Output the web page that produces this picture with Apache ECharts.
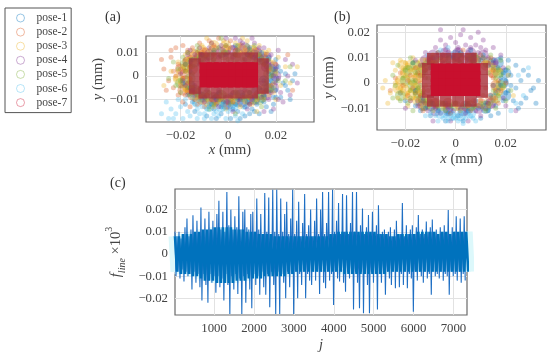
<!DOCTYPE html>
<html><head><meta charset="utf-8">
<style>html,body{margin:0;padding:0;background:#fff}#c{width:550px;height:356px}</style>
<script src="https://cdn.jsdelivr.net/npm/echarts@6/dist/echarts.min.js"></script>
</head><body><div id="c"></div>
<script>
const poseNames=['pose-1','pose-2','pose-3','pose-4','pose-5','pose-6','pose-7'];
const poseColors=['#0072BD','#D95319','#EDB120','#7E2F8E','#77AC30','#4DBEEE','#C8102E'];
// scatter values, flat x,y pairs, in 10^-3 mm
const a1=[-14,-15,-9,-17,-6,-14,-3,-16,1,-18,4,-15,7,-17,10,-14,13,-16,16,-13,19,-12,22,-9,25,-6,27,-2,24,1,21,4,26,-10,18,-15,12,-12,8,-11,3,-12,-2,-11,-7,-12,-11,-10,-15,-11,-17,-8,-12,-7,-6,-9,1,-8,6,-8,11,-9,15,-8,20,-6,23,-3,18,-2,22,2,16,6,20,7,14,10,9,12,3,13,-4,12,-18,-12,-5,-18,5,-18,9,-16,15,-11,24,-4,28,1,17,1,19,-9,-9,-8,-4,-7,4,-10,9,-7,14,-6,17,-4,15,-2,19,3,17,8,13,7,8,9,-1,9,-6,10,-11,9,-15,7,-16,2,-19,-3,-14,-6,-3,-13,2,-14,7,-13,11,-15,20,-9,-8,-13,-16,-5];
const a2=[-27,3,-25,-2,-28,7,-24,8,-22,12,-19,13,-23,-5,-21,-8,-19,-11,-16,-13,-20,3,-18,7,-15,12,-12,14,-8,15,-4,16,1,15,-22,0,-17,-3,-15,-7,-13,10,-10,11,-6,13,-19,-1,-16,4,-14,8,-12,-9,-8,-11,-3,-10,2,-11,7,12,12,11,16,9,20,5,25,9,27,-6,-26,-6,-24,11,-17,10,-13,-12,-9,9,-17,-6,-21,5,-23,2,-14,-10,-10,-13,-5,-12,3,11,9,9,-16,-1,-18,2,-16,8,-11,10,-6,9,-2,10,3,9,7,10,13,9,15,5,17,2,18,-4,15,-7,11,-8,6,-9,1,-9,-4,-9,-9,-8,-14,-7,-18,-8,-20,-4,-17,11,-1,13,5,13,-7,-10,9,-12];
const a3=[-24,2,-21,6,-18,9,-15,11,-11,13,-7,14,-2,15,3,14,8,15,13,13,17,11,21,8,24,4,-20,-3,-18,-6,-15,-9,-11,-11,-6,-13,-1,-14,5,-13,10,-12,15,-10,19,-7,22,-4,-17,2,-14,6,-10,9,-6,10,0,11,5,10,10,10,15,7,18,3,17,-4,14,-7,9,-9,3,-9,-3,-8,-9,-8,-13,-6,-16,-2,-22,-1,26,-3,29,4,6,16,-9,16,-27,-4,20,-10,12,-15,-17,7,-13,9,-8,11,-4,12,1,12,7,11,11,12,16,10,19,6,20,1,19,-3,17,-8,12,-10,7,-11,2,-11,-4,-11,-9,-12,-13,-9,-18,-5,-21,2,-16,-1,-19,4,-15,-5];
const a4=[-16,11,-12,12,-8,12,-3,13,2,12,6,14,11,14,15,12,18,9,21,11,24,7,27,5,29,-3,26,-8,23,-11,19,-14,15,-15,8,-14,2,-15,-4,-13,-10,-9,-14,-8,-18,-4,-20,1,-18,5,-14,9,-9,7,-4,8,2,8,7,7,11,8,16,4,19,0,20,-3,16,-6,12,-7,7,-6,2,-7,-4,-6,-9,-6,-14,-4,-12,5,5,15,-1,16,10,16,22,-7,25,0,17,-10,9,-12,-1,-9,-16,6,-11,9,-6,11,0,10,4,11,9,10,14,8,17,6,20,3,21,-1,18,-7,14,-9,10,-10,5,-10,0,-11,-5,-10,-10,-11,-15,-6,-19,-2,-17,9,13,12,-7,14,3,16,21,-10];
const a5=[-19,8,-16,7,-13,11,-10,8,-6,11,-1,10,4,11,9,11,13,9,17,7,20,2,21,-2,18,-6,15,-9,11,-11,6,-10,1,-10,-4,-10,-9,-10,-13,-8,-17,-5,-20,-2,-21,3,-15,1,-12,-5,-8,-7,-3,-7,3,-7,9,-7,13,-5,16,-2,15,5,11,6,6,7,0,7,-6,7,-11,6,-15,4,-23,6,-25,-1,-20,-7,24,-2,26,4,-13,13,-3,16,8,13,14,-13,3,-16,-8,-14,-17,10,-18,2,-15,-4,-16,-8,-11,-8,-6,-8,-1,-8,4,-8,8,-9,12,-9,16,-6,19,-5,18,0,17,4,14,7,9,8,3,9,-3,9,-8,9,-12,8,-18,5,-22,-4,-1,13,4,13,11,13,-6,-12,1,-12];
const a6=[-25,-18,-22,-16,-19,-18,-16,-17,-13,-18,-10,-16,-7,-18,-4,-17,-1,-18,3,-17,-24,-14,-20,-13,-17,-15,-13,-14,-9,-14,-5,-15,0,-15,6,-16,-26,-11,-12,-16,-8,-12,-3,-12,-15,-9,-11,-13,-18,-10,-6,-16,-21,-10,-2,-14,2,-13,-14,-12,-10,-18,4,-19,-28,-16,-23,-18];
// dense zone of each cloud, same units
const a1r=[14,-9,9,-10,4,-11,-1,-12,-6,-11,-11,-9,17,-5,19,-1,18,3,15,7,11,9,-16,-4,5,-8,-4,-9,12,-6,15,-2];
const a2r=[-20,3,-18,-2,-19,-6,-17,6,-14,9,-10,10,-6,11,-1,11,4,10,-15,-8,-11,-10,-5,-10,0,-10,-18,1,-15,3,-16,-6,9,10];
const a3r=[-21,-1,-17,4,-15,8,-11,11,-6,13,-1,13,5,12,10,11,14,9,17,5,-17,-5,-13,-9,-7,-11,-2,-11,3,-10,8,-10,13,-8];
const a4r=[-3,10,2,11,7,12,12,10,16,8,19,4,20,0,19,-5,16,-8,11,-10,6,-11,0,-12,-6,-9,-12,8,-8,9,16,4,-14,-7];
const a5r=[-18,5,-20,-3,-16,-1,-14,6,-11,8,-7,8,-2,9,3,8,8,8,13,7,17,1,16,-5,13,-10,8,-8,3,-8,-3,-8,-9,-8,-14,-6];
const a6r=[-13,-11,-8,-13,-3,-13,2,-13,7,-12];
const a7Outer=[-14,5,-14,0,-14,-5,-10,7.5,-5,7.5,0,7.5,5,7.5,10,7.5,14.5,5,14.5,0,14.5,-5,-10,-7,-5,-7,0,-7,5,-7,10,-7];
const a7=[-9.5,3.5,-6.5,3.5,-3.5,3.5,-0.5,3.5,2.5,3.5,5.5,3.5,8.5,3.5,10,3.5,-9.5,0.5,-6.5,0.5,-3.5,0.5,-0.5,0.5,2.5,0.5,5.5,0.5,8.5,0.5,10,0.5,-9.5,-2.5,-6.5,-2.5,-3.5,-2.5,-0.5,-2.5,2.5,-2.5,5.5,-2.5,8.5,-2.5,10,-2.5];
const b1=[15,-1,18,2,20,-4,22,3,24,-2,26,1,28,-6,30,-3,27,5,24,7,21,9,18,10,16,-9,19,-7,23,-7,26,-8,32,-8,31,-2,29,3,-7,-11,-3,-12,1,-13,5,-11,9,-10,13,-11,-12,-10,-16,-9,-20,-7,-22,-4,-10,-13,3,-15,14,-13,17,-12,-14,-11,6,13,2,12,-3,11,-7,12,11,11,15,9,20,5,22,-1,17,6,12,-8,16,-4,21,-3,25,-10,-17,8,33,1,-4,-15,10,-14,18,-1,19,4,20,1,17,-3,14,-5,-9,-8,-4,-8,4,-8,8,-7,-1,10,5,10,10,9,-6,10,-13,-6,-16,-3];
const b2=[-22,4,-19,1,-17,-2,-14,-5,-15,4,-13,7,-10,9,-6,10,-12,-8,-8,-9,-4,-9,1,-10,5,-9,9,-9,13,-8,16,-6,18,-3,17,1,15,5,13,8,9,9,4,10,-1,9,-19,-5,-21,-1,-16,6,-18,3,-11,-3,-12,2,11,-5,14,3,12,-2,15,-1,-8,-7,-3,-8,7,-7,-24,2,-26,-3,-15,-7,-7,12,3,13,10,11,14,10,-13,-11,-2,-12,6,-11,17,-8,20,0,-14,0,-16,-4,-14,3,-12,5,-9,8,-5,9,1,9,6,9,11,8,15,2,16,-3,14,-6,10,-7,5,-7,0,-8,-5,-8,-10,-7];
const b3=[-28,1,-26,-4,-24,5,-22,-2,-20,3,-23,-6,-21,6,-19,-4,-18,0,-17,5,-16,-1,-15,2,-14,-4,-13,6,-12,-1,-25,8,-27,-8,-20,8,-18,-7,-15,8,-12,9,-9,8,-16,-6,-12,-6,-8,-8,12,8,15,7,18,5,19,-2,16,-7,13,-9,-5,-10,0,-9,-29,-2,-22,9,-17,10,-19,-9,-14,-9,-9,11,5,11,21,3,23,-5,-23,1,-21,-3,-17,3,-19,2,-14,1,-15,-3,-22,-4,-24,0,-20,-1,-18,-3,-16,3,-21,4,-19,7,-17,-6,-13,-3,-15,6,-20,-6,-23,-2,-18,5,-13,3,16,1,14,5,17,-4];
const b4=[-14,7,-11,9,-7,11,-3,12,1,13,5,12,9,12,13,10,16,8,19,6,-4,15,0,16,4,15,8,15,12,13,-8,14,-12,12,-16,9,2,19,6,18,-2,18,-6,17,11,17,15,14,18,11,-15,-9,-11,-11,-6,-12,-1,-11,4,-12,8,-11,12,-10,15,-9,19,-6,-18,-7,-20,-10,-9,-15,-2,-15,5,-15,10,-13,-5,8,1,9,7,9,13,7,-10,6,-13,-7,20,-9,3,21,-6,21,9,20,24,-11,-9,10,-5,11,-1,11,3,11,7,11,11,10,15,8,-4,13,1,14,6,14,10,14,-3,-10,2,-10,7,-9,13,-8,-8,-10];
const b5=[-24,-1,-21,2,-19,6,-17,8,-16,-4,-14,-7,-12,4,-10,7,-7,9,-3,10,2,11,6,10,11,10,15,6,18,3,19,-1,17,-5,14,-8,10,-8,5,-8,0,-8,-5,-8,-10,-8,-13,-4,-16,1,-18,-3,-20,5,-23,7,-25,-6,-22,-7,-19,-8,-17,-11,-13,-10,-9,-11,-4,-11,2,-11,7,-10,12,-11,16,-10,20,-7,22,-3,21,6,18,9,14,11,8,11,-18,10,-25,3,-11,2,-14,-1,-16,4,-13,7,-17,1,-15,-2,-18,-6,-12,-7,16,2,15,-3,13,4,17,5,12,7,-8,8,-3,8,2,8,7,8,-7,-9,-2,-9,3,-9,8,-9];
const b6=[-8,-13,-5,-14,-2,-13,0,-14,2,-13,4,-14,6,-13,-6,-12,-3,-15,1,-15,3,-16,-10,-12,8,-15,-11,11,-8,10,-6,13,-3,14,24,-8,27,-5,25,3,29,6,22,-11,-1,-12,5,-12,-12,-13,-4,-13,-1,-14,3,-12,7,-14,-7,-15];
const b1r=[20,-5,19,0,20,4,17,8,12,-10,5,-10,-3,-10,-10,-9,-14,-7,6,10,0,11];
const b2r=[-15,2,-14,-3,-13,6,-13,-6,-10,9,-5,10,1,10,7,10,12,7,15,4,16,-1,14,-6,10,-8,4,-9,-3,-8,-8,-8];
const b3r=[-22,1,-20,-3,-20,4,-18,-5,-18,7,-17,1,-16,-2,-15,5,-15,-7,-13,8,-23,-2,-21,7,-12,-9,-9,9,16,5,17,-3];
const b4r=[-9,11,-4,12,1,12,6,12,11,11,15,8,-12,9,-2,9,3,9,8,9,14,-8,9,-10,3,-11,-3,-11,-8,-11,-13,-9];
const b5r=[-22,-5,-20,1,-19,5,-17,-1,-15,-4,-14,4,-16,7,-11,7,-11,-8,-6,-9,0,-9,6,-9,12,-9,16,-6,18,-1,17,4,13,8,8,9];
const b6r=[-6,-12,-2,-13,2,-13,6,-12];
const b7Outer=[-11,5.5,-11,1,-11,-3.5,10.5,5.5,10.5,1,10.5,-3.5,-9,-7,-4,-7,1,-7,6,-7,-9,9.5,-4,9.5,1,9.5,6,9.5];
const b7=[-7.5,5.5,-4.5,5.5,-1.5,5.5,1.5,5.5,4.5,5.5,7.5,5.5,-7.5,2.5,-4.5,2.5,-1.5,2.5,1.5,2.5,4.5,2.5,7.5,2.5,-7.5,-0.5,-4.5,-0.5,-1.5,-0.5,1.5,-0.5,4.5,-0.5,7.5,-0.5,-7.5,-3,-4.5,-3,-1.5,-3,1.5,-3,4.5,-3,7.5,-3];
// peak envelope of f_line, 10^-3, one pair per 50 samples
const fUpper=[10,8,10,7,9,12,16,8,11,17.5,9,15,8,21,10,16,9,19,11,15,10,18,24,11,19,10,28,13,20,11,17,12,26,11,19,20,12,11,18,19,10,25,11,18,9,27.5,10,25.5,9,29,10,29,9,25,10,18,23.6,9,16,29,9,15,23.6,8,14,27,9,13,20,8,15,25,9,20,28,9,14,28,9,29,10,15,23,9,27,10,26.5,9,14,28,10,28,8,13,20.5,9,12,17.6,9,19,9,13,22,9,10,11,9,10,12,8,11,15,8,9,23,8,13,9,11,13,8,12,17.6,9,11,9,14.6,10,12,15.5,9,11,9,12,8,13,9,19.8,9,12,10,17,9,16,9,17];
const fLower=[-10,-8,-11,-7,-12.4,-8,-10,-9,-16,-8,-13,-9,-15,-21,-9,-14,-22,-9,-13,-10,-17.5,-10,-15,-11,-21,-9,-14,-27,-10,-16,-9,-18,-11,-27,-10,-22,-9,-16,-24.4,-9,-14,-10,-18.4,-8,-15,-18.4,-9,-24,-8,-14,-27,-8,-27,-9,-13,-20,-8,-15,-9,-27,-8,-20,-9,-14,-8,-20,-9,-12,-14,-8,-12,-8,-18,-8,-13,-15.4,-8,-12,-9,-23,-8,-11,-12.4,-8,-13,-17,-8,-11,-9,-25,-8,-13,-24.4,-8,-26.7,-9,-14,-26.7,-8,-13,-9,-25,-9,-13,-9,-18.4,-8,-11,-14,-8,-15.4,-8,-15,-9,-14,-8,-15.4,-9,-11,-26,-8,-12,-8,-10,-13,-8,-11,-9,-18.4,-8,-10,-9,-11,-8,-12,-9,-10,-18.4,-8,-10,-9,-12,-8,-13,-9,-12];
// solid core of f_line, 10^-3, one pair per 100 samples
const coreUp=[8,8,9,9,9,10,10,11,11,11,12,12,12,12,12,11,11,11,10,10,10,9,9,9,9,8,8,8,8,8,8,8,8,8,8,8,8,8,8,9,9,10,10,10,10,10,10,10,10,10,10,9,9,9,8,8,9,9,9,9,9,10,10,10,10,10,9,10,10,9,10,10,10,10];
const coreLo=[-8,-9,-9,-9,-10,-10,-11,-12,-12,-12,-13,-13,-13,-13,-13,-12,-12,-12,-11,-11,-11,-11,-10,-10,-10,-10,-10,-10,-9,-9,-8,-8,-8,-8,-8,-8,-8,-8,-8,-8,-8,-8,-9,-9,-9,-9,-9,-9,-9,-9,-9,-9,-9,-8,-8,-8,-8,-8,-8,-8,-8,-8,-8,-8,-8,-8,-8,-8,-8,-8,-8,-8,-8,-8];
const xTicksAB=[-0.02,0,0.02];
const yTicksA=[-0.01,0,0.01];
const yTicksB=[-0.01,0,0.01,0.02];
const yTicksC=[-0.02,-0.01,0,0.01,0.02];
const xTicksC=[1000,2000,3000,4000,5000,6000,7000];

const serif='"Liberation Serif","Times New Roman",serif';
const ink='#444', frame='#6a6a6a', gridLine='#e2e2e2';
const pairs=f=>{const r=[];for(let i=0;i<f.length;i+=2)r.push([f[i]/1000,f[i+1]/1000]);return r;};
const fmt=v=>String(v).replace('-','\u2212');
function axis(gridIndex,min,max,ticks,name,gap){
  return {gridIndex,type:'value',min,max,name,nameLocation:'middle',nameGap:gap,
    nameTextStyle:{fontFamily:serif,fontSize:14.5,color:ink,rich:{i:{fontFamily:serif,fontStyle:'italic',fontSize:14.5,color:ink},s:{fontFamily:serif,fontStyle:'italic',fontSize:10,color:ink,verticalAlign:'bottom',padding:[0,0,-4,0]},u:{fontFamily:serif,fontSize:10,color:ink,verticalAlign:'top',padding:[-4,0,0,0]},n:{fontFamily:serif,fontSize:14.5,color:ink}}},
    axisLine:{show:false},
    axisTick:{show:false,customValues:ticks},
    axisLabel:{customValues:ticks,formatter:fmt,fontFamily:serif,fontSize:12.8,color:ink,margin:7},
    splitLine:{show:true,lineStyle:{color:gridLine,width:1}}};
}
const grids=[
 {left:146,top:36,width:168,height:86,show:true,borderColor:frame,borderWidth:1.2,backgroundColor:'#fff'},
 {left:377,top:25,width:169,height:105,show:true,borderColor:frame,borderWidth:1.2,backgroundColor:'#fff'},
 {left:175,top:189,width:292,height:126,show:true,borderColor:frame,borderWidth:1.2,backgroundColor:'#fff'}
];
const scatter=(lists,rings,outer,gi)=>{
  const base={type:'scatter',xAxisIndex:gi,yAxisIndex:gi,silent:true,animation:false};
  const s=[];
  rings.forEach((l,i)=>s.push({...base,name:poseNames[i],data:pairs(l),symbol:'circle',symbolSize:11,
    itemStyle:{color:poseColors[i],opacity:0.36},z:2}));
  lists.forEach((l,i)=>s.push({...base,name:poseNames[i],data:pairs(l),
    symbol:i===6?'rect':'circle',symbolSize:i===6?[12,11]:5,
    itemStyle:{color:poseColors[i],opacity:i===6?1:0.32},z:i===6?10:i+3}));
  s.push({...base,name:poseNames[6],data:pairs(outer),symbol:'rect',symbolSize:[12,12],
    itemStyle:{color:'#A8323C',opacity:0.82},z:9});
  return s;
};
const peakLine=[],coreLine=[];
fUpper.forEach((u,i)=>{const j=20+i*50;peakLine.push([j,u/1000]);peakLine.push([j+25,fLower[i]/1000]);});
coreUp.forEach((u,i)=>{const j=20+i*100;coreLine.push([j,u/1000]);coreLine.push([j+50,coreLo[i]/1000]);});
const lineSeries=(name,data,color,width,z)=>({name,type:'line',xAxisIndex:2,yAxisIndex:2,data,symbol:'none',silent:true,
   lineStyle:{color,width},z,animation:false});
const option={
 animation:false,backgroundColor:'#fff',
 title:[
  {text:'(a)',left:100,top:5,textStyle:{fontFamily:serif,fontSize:14,fontWeight:'normal',color:'#333'}},
  {text:'(b)',left:329,top:5,textStyle:{fontFamily:serif,fontSize:14,fontWeight:'normal',color:'#333'}},
  {text:'(c)',left:105,top:171,textStyle:{fontFamily:serif,fontSize:14,fontWeight:'normal',color:'#333'}}
 ],
 legend:{show:true,orient:'vertical',left:5,top:8,padding:[4,4,4,11],itemWidth:10,itemHeight:8,itemGap:2.1,
  borderColor:'#555',borderWidth:1,backgroundColor:'#fff',selectedMode:false,
  textStyle:{fontFamily:serif,fontSize:11.5,color:'#444',lineHeight:12,height:12,padding:[0,0,0,6]},
  data:poseNames.map((n,i)=>({name:n,icon:'circle',itemStyle:{color:'rgba(0,0,0,0)',borderColor:poseColors[i],borderWidth:1,opacity:0.4}}))},
 grid:grids,
 xAxis:[
  axis(0,-0.0345,0.036,xTicksAB,'{i|x} {n|(mm)}',21),
  axis(1,-0.0313,0.036,xTicksAB,'{i|x} {n|(mm)}',22),
  axis(2,20,7340,xTicksC,'{i|j}',23)
 ],
 yAxis:[
  axis(0,-0.0195,0.017,yTicksA,'{i|y} {n|(mm)}',33),
  axis(1,-0.0186,0.0229,yTicksB,'{i|y} {n|(mm)}',34),
  axis(2,-0.0275,0.0293,yTicksC,'{i|f}{s|line} {n|\u00d710}{u|3}',38)
 ],
 series:[
  ...scatter([a1,a2,a3,a4,a5,a6,a7],[a1r,a2r,a3r,a4r,a5r,a6r],a7Outer,0),
  ...scatter([b1,b2,b3,b4,b5,b6,b7],[b1r,b2r,b3r,b4r,b5r,b6r],b7Outer,1),
  lineSeries('f halo',coreLine,'#dcf8fb',13,2),
  lineSeries('f peaks',peakLine,'#1f6fc4',1.1,3),
  lineSeries('f core',coreLine,'#0072BD',2.6,4)
 ]
};
echarts.init(document.getElementById('c'),null,{renderer:'canvas'}).setOption(option);
</script></body></html>
